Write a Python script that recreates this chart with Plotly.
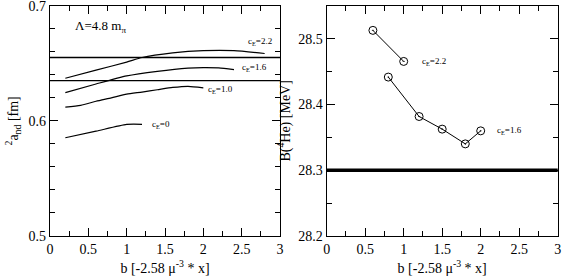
import plotly.graph_objects as go

# ---- Left panel data: 2a_nd vs b for several c_E ----
b_cE0 = [0.2, 0.6, 1.0, 1.2]
a_cE0 = [0.5853, 0.591, 0.5969, 0.597]

b_cE10 = [0.2, 0.4, 0.6, 0.8, 1.0, 1.2, 1.4, 1.6, 1.8, 2.0]
a_cE10 = [0.612, 0.6135, 0.617, 0.620, 0.6232, 0.625, 0.627, 0.629, 0.630, 0.6287]

b_cE16 = [0.2, 0.6, 1.0, 1.4, 1.8, 2.0, 2.2, 2.4]
a_cE16 = [0.6245, 0.632, 0.639, 0.643, 0.6458, 0.6463, 0.646, 0.6445]

b_cE22 = [0.2, 0.6, 1.0, 1.2, 1.6, 2.0, 2.4, 2.8]
a_cE22 = [0.637, 0.644, 0.651, 0.655, 0.659, 0.661, 0.661, 0.6585]

band_low, band_high = 0.635, 0.655

# ---- Right panel data: B(4He) vs b ----
b_B22 = [0.6, 1.0]
B_22 = [28.5125, 28.4653]
b_B16 = [0.8, 1.2, 1.5, 1.8, 2.0]
B_16 = [28.4415, 28.3816, 28.3624, 28.340, 28.3598]
B_exp = 28.3

# tick labels
x_ticks = [0, 0.5, 1, 1.5, 2, 2.5, 3]
x_ticktext = ["0", "0.5", "1", "1.5", "2", "2.5", "3"]
a_ticks = [0.5, 0.6, 0.7]
a_ticktext = ["0.5", "0.6", "0.7"]
B_ticks = [28.2, 28.3, 28.4, 28.5]
B_ticktext = ["28.2", "28.3", "28.4", "28.5"]

FONT = "'Liberation Serif', 'Times New Roman', 'DejaVu Serif', serif"
fig = go.Figure()

for xs, ys in [(b_cE0, a_cE0), (b_cE10, a_cE10), (b_cE16, a_cE16), (b_cE22, a_cE22)]:
    fig.add_trace(go.Scatter(x=xs, y=ys, mode="lines",
                             line=dict(color="black", width=1.2, shape="spline", smoothing=0.6),
                             xaxis="x", yaxis="y", showlegend=False, hoverinfo="skip"))

mk = dict(symbol="circle-open-dot", size=8, color="black", line=dict(width=1, color="black"))
for xs, ys in [(b_B22, B_22), (b_B16, B_16)]:
    fig.add_trace(go.Scatter(x=xs, y=ys, mode="lines+markers", line=dict(color="black", width=1),
                             marker=mk, xaxis="x2", yaxis="y2", showlegend=False, hoverinfo="skip"))

for yv in (band_low, band_high):
    fig.add_shape(type="line", xref="x domain", yref="y", x0=0, x1=1, y0=yv, y1=yv,
                  line=dict(color="black", width=1.3))
fig.add_shape(type="line", xref="x2 domain", yref="y2", x0=0, x1=1, y0=B_exp, y1=B_exp,
              line=dict(color="black", width=3.5))

tf = dict(family=FONT, size=14, color="black")
common = dict(showgrid=False, zeroline=False, showline=True, linecolor="black", linewidth=1.3,
              mirror="allticks", ticks="inside", tickcolor="black", tickwidth=1.1, ticklen=8,
              tickfont=tf, automargin=False, tickmode="array", ticklabeloverflow="allow")

def minor(d):
    return dict(dtick=d, ticks="inside", ticklen=5, tickcolor="black", tickwidth=1.1)

xax = dict(range=[0, 3], tickvals=x_ticks, ticktext=x_ticktext, minor=minor(0.25),
           title=dict(text="b [-2.58 μ<sup>-3</sup> * x]", font=tf, standoff=8), **common)

ydom = [40 / 276, 270.3 / 276]
fig.update_layout(
    width=562, height=276, margin=dict(l=0, r=0, t=0, b=0),
    paper_bgcolor="white", plot_bgcolor="white",
    font=dict(family=FONT, color="black"),
    xaxis=dict(domain=[50 / 562, 280 / 562], anchor="y", **xax),
    xaxis2=dict(domain=[326.7 / 562, 557.7 / 562], anchor="y2", **xax),
    yaxis=dict(domain=ydom, anchor="x", range=[0.5, 0.7], tickvals=a_ticks, ticktext=a_ticktext,
               minor=minor(0.02),
               title=dict(text="<sup>2</sup>a<sub>nd</sub> [fm]", font=tf, standoff=6), **common),
    yaxis2=dict(domain=ydom, anchor="x2", range=[28.2, 28.55], tickvals=B_ticks, ticktext=B_ticktext,
                minor=minor(0.05),
                title=dict(text="B(<sup>4</sup>He) [MeV]", font=tf, standoff=4), **common),
)

lf = dict(family=FONT, size=9, color="black")
labels = [
    ("x", "y", 2.55, 0.669, "c<sub>E</sub>=2.2"),
    ("x", "y", 2.48, 0.6463, "c<sub>E</sub>=1.6"),
    ("x", "y", 2.04, 0.6272, "c<sub>E</sub>=1.0"),
    ("x", "y", 1.3, 0.597, "c<sub>E</sub>=0"),
    ("x2", "y2", 1.21, 28.4653, "c<sub>E</sub>=2.2"),
    ("x2", "y2", 2.19, 28.36, "c<sub>E</sub>=1.6"),
]
for xr, yr, xv, yv, t in labels:
    fig.add_annotation(xref=xr, yref=yr, x=xv, y=yv, text=t, showarrow=False,
                       xanchor="left", yanchor="middle", font=lf)
fig.add_annotation(xref="x", yref="y", x=0.3, y=0.6815, text="Λ=4.8 m<sub>π</sub>", showarrow=False,
                   xanchor="left", yanchor="middle", font=dict(family=FONT, size=13, color="black"))

fig.write_html("out.html", config={"displayModeBar": False},
               post_script="document.body.style.margin='0';document.body.style.overflow='hidden';")
